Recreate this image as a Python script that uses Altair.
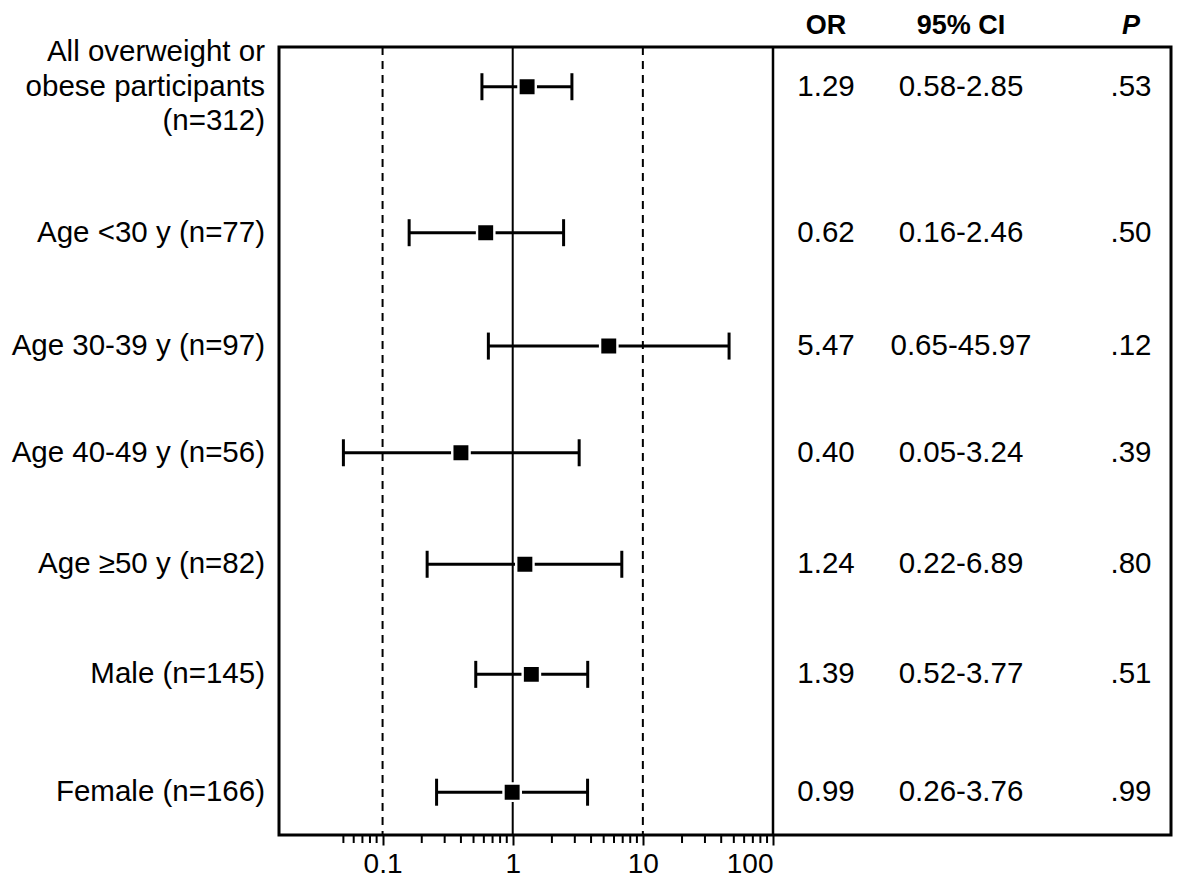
import altair as alt
import pandas as pd

# ---------------- data ----------------
labels = [
    "All overweight or\nobese participants\n(n=312)",
    "Age <30 y (n=77)",
    "Age 30-39 y (n=97)",
    "Age 40-49 y (n=56)",
    "Age \u226550 y (n=82)",
    "Male (n=145)",
    "Female (n=166)",
]
or_vals = [1.29, 0.62, 5.47, 0.40, 1.24, 1.39, 0.99]
ci_lo = [0.58, 0.16, 0.65, 0.05, 0.22, 0.52, 0.26]
ci_hi = [2.85, 2.46, 45.97, 3.24, 6.89, 3.77, 3.76]
p_vals = [".53", ".50", ".12", ".39", ".80", ".51", ".99"]

headers = ["OR", "95% CI", "P"]
major_ticks = [0.1, 1, 10, 100]
minor_ticks = [0.05, 0.06, 0.07, 0.08, 0.09,
               0.2, 0.3, 0.4, 0.5, 0.6, 0.7, 0.8, 0.9,
               2, 3, 4, 5, 6, 7, 8, 9,
               20, 30, 40, 50, 60, 70, 80, 90]

# ---------------- layout (not data) ----------------
row_y = [0, 1.334, 2.37, 3.345, 4.364, 5.37, 6.447]   # vertical slot of each row
y_dom = [-0.363, 6.838]
header_y = -0.555
W, H, WF = 892, 788, 494
TW = W - WF
col_x = {"OR": 53 / TW, "95% CI": 188 / TW, "P": 358 / TW}  # fraction of table panel
FONT = "Liberation Sans"
FS = 29.5
HFS = 27

df = pd.DataFrame({
    "label": labels,
    "or": or_vals,
    "lo": ci_lo,
    "hi": ci_hi,
    "p": p_vals,
    "row": row_y,
})
df["or_txt"] = [f"{v:.2f}" for v in or_vals]
df["ci_txt"] = [f"{a:.2f}-{b:.2f}" for a, b in zip(ci_lo, ci_hi)]

table_rows = []
for i in range(len(labels)):
    table_rows.append({"col": "OR", "txt": df["or_txt"][i], "row": row_y[i]})
    table_rows.append({"col": "95% CI", "txt": df["ci_txt"][i], "row": row_y[i]})
    table_rows.append({"col": "P", "txt": p_vals[i], "row": row_y[i]})
tdf = pd.DataFrame(table_rows)
tdf["cx"] = tdf["col"].map(col_x)
hdf = pd.DataFrame({"col": headers, "cx": [col_x[h] for h in headers], "row": header_y})

xs = alt.Scale(type="log", domain=[0.016, 100], range=[0, WF], nice=False)
ys = alt.Scale(domain=y_dom, reverse=True, nice=False, zero=False)
ts = alt.Scale(domain=[0, 1], range=[WF, W], nice=False, zero=False)
xax = alt.Axis(values=major_ticks, format="~g", domain=False, grid=False,
               tickSize=10, tickWidth=2, tickColor="black",
               labelFont=FONT, labelFontSize=28, labelColor="black",
               labelPadding=5, title=None)

ref_df = pd.DataFrame({"v": [0.1, 10]})
one_df = pd.DataFrame({"v": [1]})
div_df = pd.DataFrame({"v": [100]})
minor_df = pd.DataFrame({"v": minor_ticks})

dashed = alt.Chart(ref_df).mark_rule(color="black", strokeWidth=2, strokeDash=[8, 6]).encode(
    x=alt.X("v:Q", scale=xs, axis=xax))
solid1 = alt.Chart(one_df).mark_rule(color="black", strokeWidth=2).encode(
    x=alt.X("v:Q", scale=xs, axis=xax))
divider = alt.Chart(div_df).mark_rule(color="black", strokeWidth=2.5).encode(
    x=alt.X("v:Q", scale=xs, axis=xax))
minor = alt.Chart(minor_df).mark_rule(color="black", strokeWidth=2).encode(
    x=alt.X("v:Q", scale=xs, axis=xax), y=alt.value(H), y2=alt.value(H + 8))

base = alt.Chart(df)
bars = base.mark_rule(color="black", strokeWidth=3).encode(
    x=alt.X("lo:Q", scale=xs, axis=xax), x2="hi:Q",
    y=alt.Y("row:Q", scale=ys, axis=None))
cap_lo = base.mark_tick(orient="vertical", size=27, thickness=3, color="black", opacity=1).encode(
    x=alt.X("lo:Q", scale=xs, axis=xax), y=alt.Y("row:Q", scale=ys, axis=None))
cap_hi = base.mark_tick(orient="vertical", size=27, thickness=3, color="black", opacity=1).encode(
    x=alt.X("hi:Q", scale=xs, axis=xax), y=alt.Y("row:Q", scale=ys, axis=None))
pts = base.mark_point(shape="square", filled=True, size=300, color="black", opacity=1,
                      stroke="white", strokeWidth=2.4).encode(
    x=alt.X("or:Q", scale=xs, axis=xax), y=alt.Y("row:Q", scale=ys, axis=None))
lab_single = base.transform_filter("indexof(datum.label, '\\n') < 0").mark_text(
    align="right", baseline="middle", font=FONT, fontSize=FS, color="black").encode(
    x=alt.value(-14), y=alt.Y("row:Q", scale=ys, axis=None), text="label:N")
lab_multi = base.transform_filter("indexof(datum.label, '\\n') >= 0").mark_text(
    align="right", baseline="middle", font=FONT, fontSize=FS, color="black",
    lineBreak="\n", lineHeight=34.5, dy=-34.5).encode(
    x=alt.value(-14), y=alt.Y("row:Q", scale=ys, axis=None), text="label:N")

forest = alt.layer(dashed, solid1, divider, minor, bars, cap_lo, cap_hi, pts,
                   lab_single, lab_multi)

tab = alt.Chart(tdf).mark_text(align="center", baseline="middle", font=FONT, fontSize=FS,
                               color="black").encode(
    x=alt.X("cx:Q", scale=ts, axis=None), y=alt.Y("row:Q", scale=ys, axis=None), text="txt:N")
head = alt.Chart(hdf).transform_filter("datum.col != 'P'").mark_text(
    align="center", baseline="middle", font=FONT, fontSize=HFS, fontWeight="bold",
    color="black").encode(
    x=alt.X("cx:Q", scale=ts, axis=None), y=alt.Y("row:Q", scale=ys, axis=None), text="col:N")
headp = alt.Chart(hdf).transform_filter("datum.col == 'P'").mark_text(
    align="center", baseline="middle", font=FONT, fontSize=HFS, fontWeight="bold",
    fontStyle="italic", color="black").encode(
    x=alt.X("cx:Q", scale=ts, axis=None), y=alt.Y("row:Q", scale=ys, axis=None), text="col:N")
table = alt.layer(tab, head, headp)

chart = alt.layer(forest, table).resolve_scale(x="independent").properties(
    width=W, height=H,
    background="white",
    autosize=alt.AutoSizeParams(type="none"),
    padding={"left": 271, "top": 39, "right": 2, "bottom": 44},
).configure_view(stroke="black", strokeWidth=3)

chart.save("out.html", embed_options={"renderer": "svg", "actions": False})
